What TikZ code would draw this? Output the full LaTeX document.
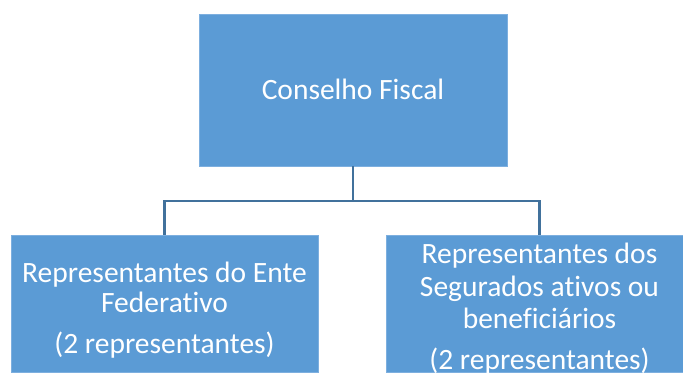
\documentclass[tikz,border=0pt]{standalone}
\usepackage{fontspec}
\setmainfont{Carlito}[Ligatures=NoCommon]
\definecolor{boxblue}{HTML}{5B9BD5}
\definecolor{boxedge}{HTML}{7DAFDF}
\definecolor{linkblue}{HTML}{41719C}
\begin{document}
\begin{tikzpicture}[x=1bp,y=-1bp,
  orgbox/.style={draw=boxedge,line width=0.8bp,fill=boxblue,rectangle,inner sep=0pt,outer sep=0pt},
  boxtext/.style={text=white,anchor=base,inner sep=0pt,font=\fontsize{29.5bp}{32bp}\selectfont},
  link/.style={draw=linkblue,line width=2.6bp}]
\useasboundingbox (0,0) rectangle (683,381);
\clip (0,0) rectangle (683,381);
\node[orgbox,minimum width=308bp,minimum height=152bp] (top) at (353,90) {};
\node[orgbox,minimum width=307bp,minimum height=137bp] (left) at (164.5,303.5) {};
\node[orgbox,minimum width=307bp,minimum height=137bp] (right) at (539.5,303.5) {};
\node[boxtext] (t1) at (353,99) {Conselho Fiscal};
\node[boxtext] (l1) at (164.5,282) {Representantes do Ente};
\node[boxtext] (l2) at (164.5,312) {Federativo};
\node[boxtext] (l3) at (164.5,353) {(2 representantes)};
\node[boxtext] (r1) at (539.5,263) {Representantes dos};
\node[boxtext] (r2) at (539.5,296) {Segurados ativos ou};
\node[boxtext] (r3) at (539.5,328) {beneficiários};
\node[boxtext] (r4) at (539.5,369) {(2 representantes)};
\coordinate (mid) at (353,201);
\draw[link] (top.south) -- (mid);
\draw[link] (mid) -| (left.north);
\draw[link] (mid) -| (right.north);
\end{tikzpicture}
\end{document}
